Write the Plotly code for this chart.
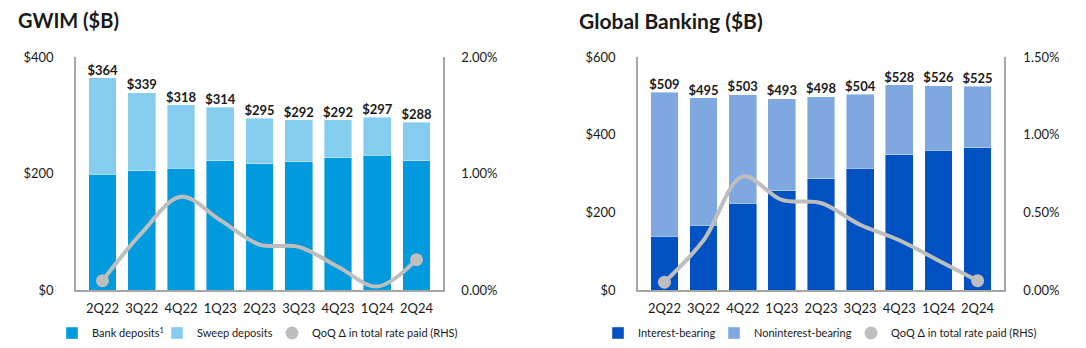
import plotly.graph_objects as go

quarters = ["2Q22", "3Q22", "4Q22", "1Q23", "2Q23", "3Q23", "4Q23", "1Q24", "2Q24"]

# GWIM ($B)
gwim_total = [364, 339, 318, 314, 295, 292, 292, 297, 288]
gwim_bank = [199, 205, 209, 222, 217, 220, 227, 231, 222]
gwim_sweep = [t - b for t, b in zip(gwim_total, gwim_bank)]
gwim_rate = [0.08, 0.49, 0.80, 0.60, 0.39, 0.37, 0.20, 0.03, 0.26]

# Global Banking ($B)
gb_total = [509, 495, 503, 493, 498, 504, 528, 526, 525]
gb_interest = [139, 167, 223, 256, 287, 313, 348, 360, 366]
gb_nonint = [t - i for t, i in zip(gb_total, gb_interest)]
gb_rate = [0.05, 0.32, 0.73, 0.58, 0.56, 0.42, 0.32, 0.19, 0.06]

C_BANK = "#009ADE"
C_SWEEP = "#85CDEE"
C_INT = "#0052C2"
C_NON = "#80A8E0"
C_LINE = "#BEBEBE"
C_AXIS = "#A6A6A6"
TXT = "#1a1a1a"
FONT = "Lato"

W, H = 1086, 348

fig = go.Figure()

def add_panel(xa, ya, ya2, s1, s2, n1, n2, c1, c2, total, rate, lg):
    fig.add_trace(go.Bar(x=quarters, y=s1, name=n1, marker=dict(color=c1, line=dict(color="rgba(255,255,255,0.5)", width=0.8)),
                         xaxis=xa, yaxis=ya, legend=lg[0]))
    fig.add_trace(go.Bar(x=quarters, y=s2, name=n2, marker=dict(color=c2, line=dict(color="rgba(255,255,255,0.5)", width=0.8)),
                         xaxis=xa, yaxis=ya, legend=lg[1]))
    fig.add_trace(go.Scatter(x=quarters, y=total, mode="text", text=[f"${v}" for v in total],
                             textposition="top center", textfont=dict(family=FONT, size=13, color=TXT, weight="bold"),
                             xaxis=xa, yaxis=ya, showlegend=False, hoverinfo="skip"))
    fig.add_trace(go.Scatter(x=quarters, y=rate, mode="lines", line=dict(color=C_LINE, width=4, shape="spline", smoothing=1),
                             xaxis=xa, yaxis=ya2, showlegend=False))
    fig.add_trace(go.Scatter(x=[quarters[0], quarters[-1]], y=[rate[0], rate[-1]], mode="markers",
                             marker=dict(color=C_LINE, size=13), xaxis=xa, yaxis=ya2, showlegend=False))
    fig.add_trace(go.Scatter(x=[quarters[0]], y=[-5], mode="markers", name="QoQ Δ in total rate paid (RHS)",
                             marker=dict(color=C_LINE, size=13), hoverinfo="skip",
                             xaxis=xa, yaxis=ya2, legend=lg[2]))

add_panel("x", "y", "y2", gwim_bank, gwim_sweep, "Bank deposits<sup>1</sup>", "Sweep deposits",
          C_BANK, C_SWEEP, gwim_total, gwim_rate, ["legend", "legend2", "legend3"])
add_panel("x2", "y3", "y4", gb_interest, gb_nonint, "Interest-bearing", "Noninterest-bearing",
          C_INT, C_NON, gb_total, gb_rate, ["legend4", "legend5", "legend6"])

top, bot = 57, 290
ydom = [1 - bot / H, 1 - top / H]
xdom1 = [76 / W, 443 / W]
xdom2 = [638 / W, 1004 / W]

tickf = dict(family=FONT, size=13, color=TXT)

def xax(dom, anchor):
    return dict(domain=dom, anchor=anchor, type="category", showline=True, linecolor=C_AXIS, linewidth=1.5,
                showgrid=False, ticks="", tickfont=tickf, ticklabelstandoff=6, fixedrange=True)

def yax(dom, anchor, rng, dtick, prefix="", suffix="", fmt=None, side="left", overlay=None, standoff=16):
    d = dict(domain=dom, anchor=anchor, range=rng, dtick=dtick, tickprefix=prefix, ticksuffix=suffix,
             showline=True, linecolor=C_AXIS, linewidth=1.5, showgrid=False, zeroline=False, ticks="",
             tickfont=tickf, side=side, ticklabelstandoff=standoff)
    if fmt:
        d["tickformat"] = fmt
    if overlay:
        d["overlaying"] = overlay
    return d

legend_y = 1 - 333 / H
def leg(xpx):
    return dict(x=(xpx - 36) / W, y=legend_y, xref="container", yref="container",
                xanchor="left", yanchor="middle", orientation="h",
                font=dict(family=FONT, size=11, color=TXT), bgcolor="rgba(0,0,0,0)")

fig.update_layout(
    width=W, height=H, margin=dict(l=0, r=0, t=0, b=0, autoexpand=False),
    paper_bgcolor="white", plot_bgcolor="white",
    barmode="stack", bargap=0.29,
    font=dict(family=FONT, color=TXT),
    xaxis=xax(xdom1, "y"),
    xaxis2=xax(xdom2, "y3"),
    yaxis=yax(ydom, "x", [0, 400], 200, prefix="$", standoff=18),
    yaxis2=yax(ydom, "x", [0, 2], 1, suffix="%", fmt=".2f", side="right", overlay="y", standoff=14),
    yaxis3=yax(ydom, "x2", [0, 600], 200, prefix="$", standoff=18),
    yaxis4=yax(ydom, "x2", [0, 1.5], 0.5, suffix="%", fmt=".2f", side="right", overlay="y3", standoff=15),
    legend=leg(88), legend2=leg(193), legend3=leg(308),
    legend4=leg(634), legend5=leg(750), legend6=leg(887),
    annotations=[
        dict(text="<b>GWIM ($B)</b>", x=16 / W, y=1 - 20 / H, xref="paper", yref="paper", xanchor="left",
             yanchor="middle", showarrow=False, font=dict(family=FONT, size=20, color=TXT)),
        dict(text="<b>Global Banking ($B)</b>", x=577 / W, y=1 - 20 / H, xref="paper", yref="paper", xanchor="left",
             yanchor="middle", showarrow=False, font=dict(family=FONT, size=21, color=TXT)),
    ],
)

fig.write_html("out.html")
